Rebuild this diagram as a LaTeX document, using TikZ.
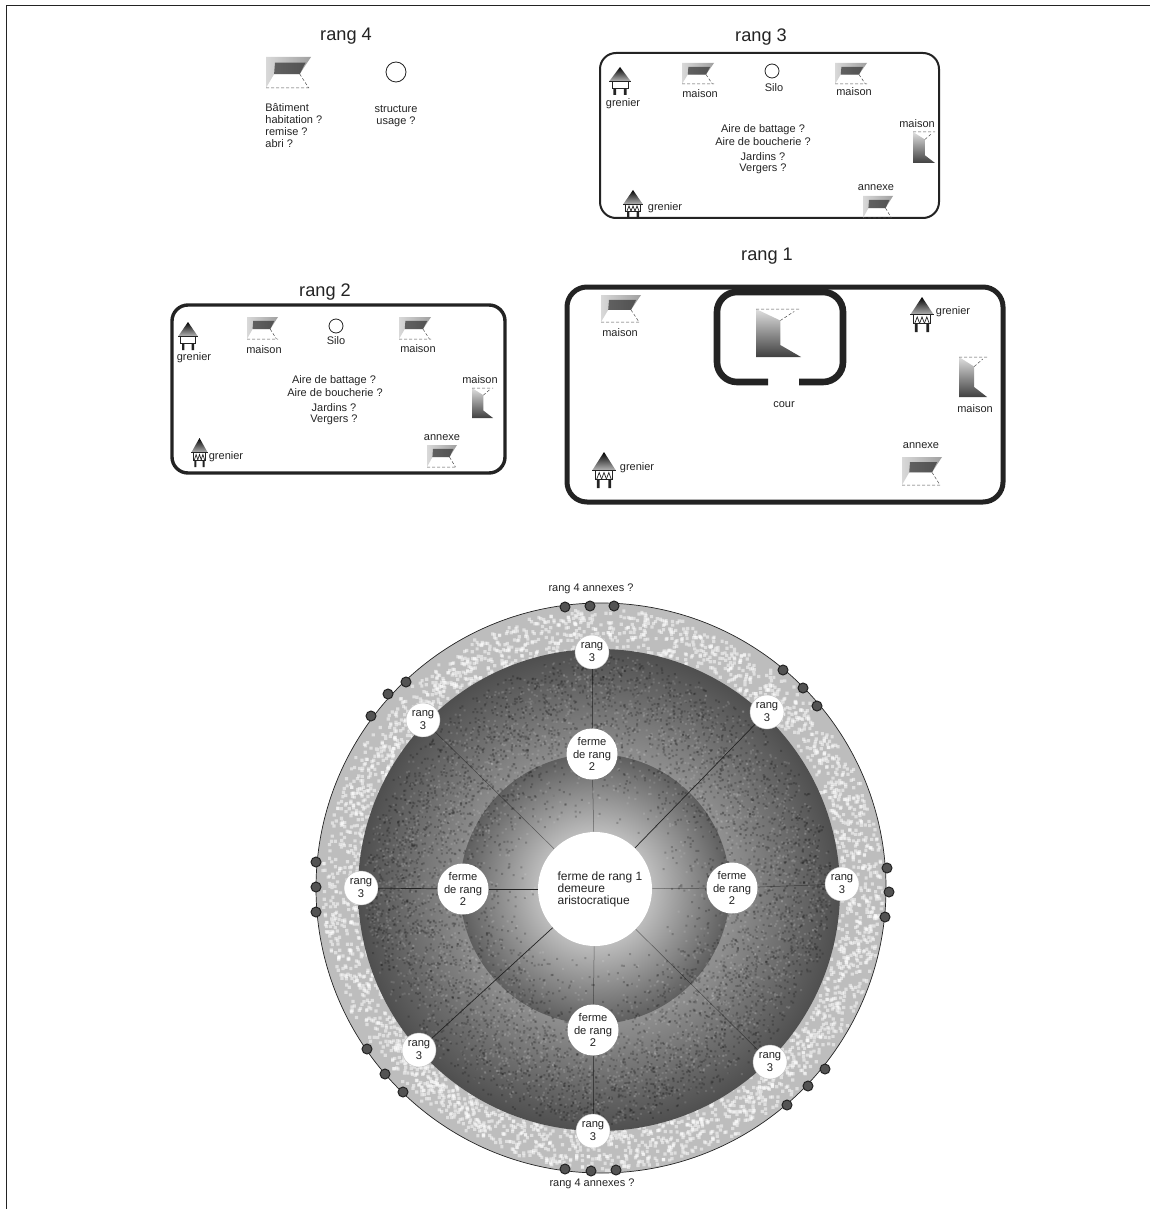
\documentclass[tikz,border=0pt]{standalone}
\usepackage{fontspec}
\usepackage{xcolor}
\setmainfont{Liberation Sans}
\usetikzlibrary{positioning}
\definecolor{ink}{RGB}{35,35,35}
\definecolor{pale}{gray}{.74}
\definecolor{ringa}{gray}{.74}
\definecolor{ringb}{gray}{.37}
\definecolor{ringc}{gray}{.56}
\definecolor{ringd}{gray}{.31}
\pgfdeclareradialshading{inner ring}{\pgfpoint{0bp}{0bp}}{color(0bp)=(ringa); color(10.5bp)=(ringa); color(25bp)=(ringb); color(50bp)=(ringb)}
\pgfdeclareradialshading{outer ring}{\pgfpoint{0bp}{0bp}}{color(0bp)=(ringc); color(14bp)=(ringc); color(25bp)=(ringd); color(50bp)=(ringd)}
\newcommand{\GrenierBody}{%
  \shade[top color=black, bottom color=gray!60] (.5,0) -- (.98,.5) -- (.02,.5) -- cycle;
  \draw[ink, line width=.4pt] (0,.5) -- (1,.5);
  \draw[ink, line width=.4pt, fill=white] (.14,.5) rectangle (.86,.76);
  \fill[ink] (.2,.76) rectangle (.32,1) (.68,.76) rectangle (.8,1);
}
\tikzset{
  titre/.style  = {inner sep=0pt, text=ink, yshift=-.8pt, font=\fontsize{9.1pt}{11pt}\selectfont},
  lbl/.style    = {inner sep=0pt, text=ink, yshift=-.4pt, align=center, font=\fontsize{5.5pt}{6pt}\selectfont},
  disc/.style   = {circle, fill=white, inner sep=0pt, text=ink,
                   align=center, font=\fontsize{5.6pt}{6.2pt}\selectfont},
  farm/.style   = {disc, minimum size=25.5pt},
  sat/.style    = {disc, draw=gray!50, line width=.2pt, minimum size=17pt},
  silo/.style   = {circle, draw=ink, fill=white, line width=.4pt, inner sep=0pt, minimum size=7pt},
  annex/.style  = {circle, draw=ink, fill=gray!65!black, line width=.5pt, inner sep=0pt, minimum size=5pt},
  enclos/.style = {draw=ink, rounded corners=8pt},
  spoke/.style  = {draw=ink, line width=.35pt},
  spokepale/.style = {draw=black, opacity=.45, line width=.25pt},
  trace/.style  = {draw=gray!60!black, line width=.25pt, dash pattern=on 1.5pt off 1pt},
  maisonh/.pic  = {
    \shade[left color=gray!30, right color=gray!75] (0,0) -- (1,0) -- (.75,.55) -- (.18,.55) -- (0,1) -- cycle;
    \fill[gray!30!black, opacity=.65] (.2,.18) -- (.88,.18) -- (.75,.55) -- (.18,.55) -- cycle;
    \draw[trace] (0,1) -- (1,1) (.75,.55) -- (.95,1);
  },
  maisonv/.pic  = {
    \shade[top color=gray!25, bottom color=gray!50!black] (0,0) -- (.54,.24) -- (.54,.75) -- (1,1) -- (0,1) -- cycle;
    \draw[trace] (0,0) -- (1,0) (.54,.24) -- (.85,.05);
  },
  grenier/.pic  = {\GrenierBody},
  grenierb/.pic = {
    \GrenierBody
    \foreach \xa in {.2,.4,.6}
      \draw[ink, line width=.35pt] (\xa,.75) -- (\xa+.1,.57) -- (\xa+.2,.75);
  },
}

\begin{document}
\begin{tikzpicture}[x=.5pt, y=-.5pt]
\useasboundingbox (0,0) rectangle (1150,1209);
\draw[ink, line width=.8pt] (1150,5.5) -- (6.5,5.5) -- (6.5,1209);

% rang 4
\node[titre] (t4) at (346,35) {rang 4};
\pic[xscale=45, yscale=31] at (266,57) {maisonh};
\node[silo, minimum size=10pt] (s4) at (396,72) {};
\node[lbl, align=left, anchor=north west] (bat4) at (265,102) {Bâtiment\\habitation ?\\remise ?\\abri ?};
\node[lbl] (st4) at (396,115) {structure\\usage ?};

% rang 3
\node[titre] (t3) at (761,35) {rang 3};
\draw[enclos, line width=1pt] (600,53) rectangle (939,218);
\pic[xscale=22, yscale=28] at (609,67) {grenier};
\node[lbl] (g3a) at (623,103) {grenier};
\pic[xscale=32, yscale=21] at (682,63) {maisonh};
\node[lbl] (m3a) at (700,93) {maison};
\node[silo] (s3) at (772,71) {};
\node[lbl] (sl3) at (774,87) {Silo};
\pic[xscale=32, yscale=21] at (835,63) {maisonh};
\node[lbl] (m3b) at (854,91) {maison};
\node[lbl] (a3a) at (763,129) {Aire de battage ?};
\node[lbl] (a3b) at (763,141) {Aire de boucherie ?};
\node[lbl] (a3c) at (763,156) {Jardins ?};
\node[lbl] (a3d) at (763,168) {Vergers ?};
\node[lbl] (m3c) at (917,123) {maison};
\pic[xscale=22, yscale=31] at (913,132) {maisonv};
\node[lbl] (x3) at (876,187) {annexe};
\pic[xscale=30, yscale=22] at (863,196) {maisonh};
\pic[xscale=20, yscale=28] at (623,190) {grenierb};
\node[lbl] (g3b) at (665,207) {grenier};

% rang 2
\node[titre] (t2) at (325,290) {rang 2};
\draw[enclos, line width=1.7pt] (172,305) rectangle (505,473);
\pic[xscale=20, yscale=28] at (178,322) {grenier};
\node[lbl] (g2a) at (194,357) {grenier};
\pic[xscale=31, yscale=22] at (247,317) {maisonh};
\node[lbl] (m2a) at (264,349) {maison};
\node[silo] (s2) at (336,326) {};
\node[lbl] (sl2) at (336,340) {Silo};
\pic[xscale=32, yscale=22] at (399,317) {maisonh};
\node[lbl] (m2b) at (418,348) {maison};
\node[lbl] (a2a) at (334,380) {Aire de battage ?};
\node[lbl] (a2b) at (335,392) {Aire de boucherie ?};
\node[lbl] (a2c) at (334,407) {Jardins ?};
\node[lbl] (a2d) at (334,419) {Vergers ?};
\node[lbl] (m2c) at (480,379) {maison};
\pic[xscale=21, yscale=30] at (472,388) {maisonv};
\node[lbl] (x2) at (442,437) {annexe};
\pic[xscale=30, yscale=22] at (427,445) {maisonh};
\pic[xscale=17, yscale=29] at (191,438) {grenierb};
\node[lbl] (g2b) at (226,456) {grenier};

% rang 1
\node[titre] (t1) at (767,255) {rang 1};
\draw[enclos, line width=2.5pt, rounded corners=10pt] (567,287) rectangle (1003,502);
\draw[ink, line width=3.3pt, rounded corners=10pt] (768,382) -- (717,382) -- (717,292) -- (843,292) -- (843,382) -- (799,382);
\pic[xscale=40, yscale=27] at (601,295) {maisonh};
\node[lbl] (m1a) at (620,332) {maison};
\pic[xscale=45, yscale=48] at (756,309) {maisonv};
\node[lbl] (c1) at (784,404) {cour};
\pic[xscale=24, yscale=35] at (910,297) {grenierb};
\node[lbl] (g1a) at (953,311) {grenier};
\pic[xscale=28, yscale=40] at (959,357) {maisonv};
\node[lbl] (m1b) at (975,408) {maison};
\node[lbl] (x1) at (921,445) {annexe};
\pic[xscale=40, yscale=28] at (902,457) {maisonh};
\pic[xscale=24, yscale=36] at (592,452) {grenierb};
\node[lbl] (g1b) at (637,467) {grenier};

% the rings
\fill[pale] (601,888) circle [radius=285];
\pgfmathsetseed{11}
\foreach \j in {1,...,30}
  \fill[white, opacity=.5, shift={(601,888)}]
    \foreach \i in {1,...,100} { ({360*rnd}:{238+43*rnd}) rectangle ++(3.2,3.2) };
\draw[ink, line width=.35pt] (601,888) circle [radius=285];
\shade[shading=outer ring] (599,890) circle [radius=241];
\shade[shading=inner ring] (595,889) circle [radius=135];
% grain on the two dark rings
\foreach \j in {1,...,50}
  \fill[black, opacity=.2, shift={(597,889)}]
    \foreach \i in {1,...,100} { ({360*rnd}:{60+175*sqrt(rnd)}) rectangle ++(2,2) };
\foreach \j in {1,...,30}
  \fill[white, opacity=.12, shift={(597,889)}]
    \foreach \i in {1,...,100} { ({360*rnd}:{60+175*sqrt(rnd)}) rectangle ++(2,2) };

% centre and farms
\node[disc, minimum size=57pt, font=\fontsize{6pt}{6pt}\selectfont, align=left] (centre) at (595,889)
  {\hspace*{5pt}ferme de rang 1\\\hspace*{5pt}demeure\\\hspace*{5pt}aristocratique};
\node[farm] (fn) at (592,754) {ferme\\de rang\\2};
\node[farm] (fw) at (463,889) {ferme\\de rang\\2};
\node[farm] (fe) at (732,888) {ferme\\de rang\\2};
\node[farm] (fs) at (593,1030) {ferme\\de rang\\2};

\node[sat] (rn) at (592,652) {rang\\3};
\node[sat] (rne) at (767,712) {rang\\3};
\node[sat] (re) at (842,884) {rang\\3};
\node[sat] (rse) at (770,1062) {rang\\3};
\node[sat] (rs) at (593,1131) {rang\\3};
\node[sat] (rsw) at (419,1050) {rang\\3};
\node[sat] (rw) at (361,888) {rang\\3};
\node[sat] (rnw) at (423,720) {rang\\3};

% spokes
\draw[spoke] (centre) -- (rne);
\draw[spoke] (centre) -- (rsw);
\draw[spoke] (centre) -- (fw);
\draw[spoke] (fw) -- (rw);
\draw[spokepale] (centre) -- (rnw);
\draw[spokepale] (centre) -- (rse);
\draw[spokepale] (centre) -- (fn);
\draw[spokepale] (fn) -- (rn);
\draw[spokepale] (centre) -- (fe);
\draw[spokepale] (fe) -- (re);
\draw[spokepale] (centre) -- (fs);
\draw[spokepale] (fs) -- (rs);

% rang 4 annexes
\foreach \xa/\ya [count=\n] in {565/607, 590/606, 614/606, 783/670, 803/688, 817/706,
    887/868, 889/892, 885/917, 825/1069, 808/1086, 787/1105, 616/1170, 591/1171, 565/1169,
    403/1092, 385/1074, 367/1049, 316/912, 316/887, 316/862, 371/716, 388/694, 406/682}
  \node[annex] (ann\n) at (\xa,\ya) {};
\node[lbl] (top4) at (591,588) {rang 4 annexes ?};
\node[lbl] (bot4) at (592,1183) {rang 4 annexes ?};
\end{tikzpicture}
\end{document}
